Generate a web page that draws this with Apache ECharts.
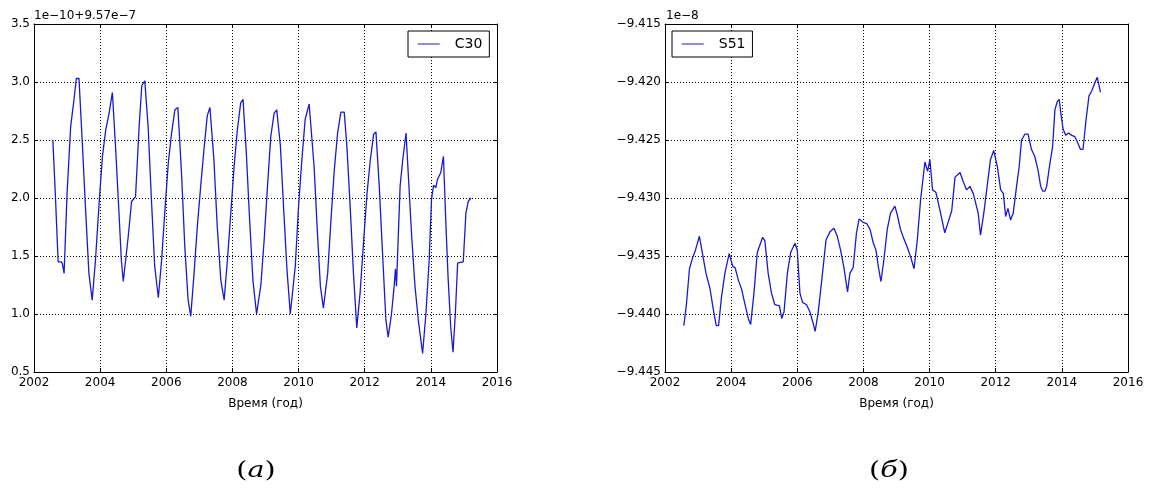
<!DOCTYPE html>
<html>
<head>
<meta charset="utf-8">
<script src="https://cdn.jsdelivr.net/npm/echarts@6/dist/echarts.min.js"></script>
<style>
html,body{margin:0;padding:0;background:#fff;}
#chart{width:1149px;height:490px;}
</style>
</head>
<body>
<div id="chart"></div>
<script>
// ---- data ----
// Left panel: C30 (offset 9.57e-7, units 1e-10)
var c30Years = [2002.57,2002.65,2002.73,2002.83,2002.86,2002.91,2003.00,2003.11,2003.21,2003.28,2003.36,2003.46,2003.56,2003.66,2003.76,2003.86,2003.97,2004.07,2004.17,2004.27,2004.37,2004.47,2004.57,2004.64,2004.70,2004.75,2004.85,2004.95,2005.07,2005.18,2005.26,2005.35,2005.45,2005.55,2005.65,2005.76,2005.86,2005.96,2006.06,2006.16,2006.26,2006.35,2006.46,2006.56,2006.66,2006.74,2006.84,2006.94,2007.04,2007.14,2007.24,2007.32,2007.44,2007.54,2007.65,2007.75,2007.85,2007.95,2008.05,2008.15,2008.25,2008.32,2008.42,2008.52,2008.62,2008.73,2008.86,2008.96,2009.06,2009.16,2009.26,2009.34,2009.45,2009.55,2009.65,2009.75,2009.80,2009.90,2010.00,2010.10,2010.20,2010.32,2010.37,2010.47,2010.57,2010.66,2010.75,2010.88,2010.98,2011.08,2011.18,2011.28,2011.38,2011.46,2011.56,2011.66,2011.76,2011.86,2011.97,2012.07,2012.17,2012.27,2012.34,2012.44,2012.54,2012.64,2012.71,2012.81,2012.89,2012.93,2012.96,2012.99,2013.07,2013.15,2013.25,2013.32,2013.42,2013.52,2013.62,2013.75,2013.85,2013.95,2014.02,2014.08,2014.15,2014.20,2014.30,2014.38,2014.45,2014.52,2014.60,2014.67,2014.74,2014.81,2014.98,2015.06,2015.13,2015.21];
var c30Values = [2.50,2.00,1.45,1.45,1.43,1.35,2.04,2.62,2.85,3.03,3.03,2.48,1.90,1.35,1.12,1.47,1.96,2.36,2.59,2.73,2.91,2.42,1.87,1.47,1.28,1.29,1.67,1.97,2.01,2.62,2.97,3.01,2.62,1.99,1.41,1.14,1.47,1.90,2.30,2.56,2.76,2.78,2.22,1.58,1.12,0.98,1.35,1.76,2.10,2.42,2.71,2.78,2.33,1.76,1.29,1.12,1.47,1.87,2.27,2.59,2.82,2.85,2.39,1.81,1.29,1.00,1.25,1.64,2.10,2.53,2.73,2.76,2.45,1.90,1.38,1.00,1.00,1.41,1.93,2.33,2.68,2.81,2.81,2.27,1.70,1.24,1.05,1.35,1.81,2.24,2.56,2.74,2.74,2.45,1.93,1.35,0.88,1.18,1.64,2.04,2.33,2.55,2.57,2.10,1.52,0.95,0.80,1.00,1.24,1.39,1.24,1.24,2.10,2.33,2.56,2.19,1.67,1.24,0.95,0.66,1.00,1.47,1.99,2.11,2.09,2.16,2.22,2.36,1.81,1.32,0.89,0.67,1.00,1.44,1.45,1.87,1.97,2.00];

// Right panel: S51 (units 1e-8)
var s51Years = [2002.57,2002.65,2002.74,2002.84,2002.91,2003.04,2003.14,2003.24,2003.36,2003.46,2003.55,2003.62,2003.71,2003.81,2003.94,2004.05,2004.12,2004.22,2004.32,2004.42,2004.52,2004.59,2004.69,2004.79,2004.95,2005.02,2005.12,2005.22,2005.32,2005.46,2005.53,2005.60,2005.70,2005.80,2005.93,2006.00,2006.08,2006.16,2006.28,2006.38,2006.48,2006.54,2006.63,2006.74,2006.87,2006.99,2007.11,2007.21,2007.31,2007.41,2007.52,2007.59,2007.69,2007.79,2007.87,2007.99,2008.10,2008.20,2008.30,2008.38,2008.45,2008.53,2008.62,2008.72,2008.82,2008.95,2009.02,2009.12,2009.22,2009.32,2009.43,2009.53,2009.63,2009.73,2009.86,2009.94,2010.01,2010.09,2010.19,2010.31,2010.46,2010.56,2010.67,2010.77,2010.92,2011.02,2011.12,2011.22,2011.32,2011.47,2011.54,2011.64,2011.74,2011.84,2011.94,2012.05,2012.15,2012.23,2012.30,2012.37,2012.45,2012.53,2012.63,2012.71,2012.78,2012.88,2012.98,2013.08,2013.18,2013.28,2013.36,2013.42,2013.49,2013.54,2013.64,2013.72,2013.79,2013.86,2013.92,2013.97,2014.04,2014.12,2014.20,2014.30,2014.39,2014.49,2014.56,2014.64,2014.73,2014.82,2014.90,2014.98,2015.07,2015.17];
var s51Values = [-9.4410,-9.4391,-9.4361,-9.4351,-9.4346,-9.4333,-9.4349,-9.4365,-9.4378,-9.4396,-9.4410,-9.4410,-9.4385,-9.4365,-9.4348,-9.4359,-9.4360,-9.4371,-9.4379,-9.4392,-9.4404,-9.4409,-9.4382,-9.4347,-9.4334,-9.4337,-9.4365,-9.4382,-9.4392,-9.4393,-9.4404,-9.4398,-9.4365,-9.4347,-9.4339,-9.4345,-9.4382,-9.4390,-9.4392,-9.4398,-9.4408,-9.4415,-9.4399,-9.4371,-9.4336,-9.4329,-9.4326,-9.4333,-9.4345,-9.4360,-9.4381,-9.4365,-9.4360,-9.4330,-9.4318,-9.4321,-9.4322,-9.4327,-9.4339,-9.4345,-9.4359,-9.4372,-9.4353,-9.4327,-9.4313,-9.4307,-9.4314,-9.4327,-9.4335,-9.4342,-9.4351,-9.4361,-9.4336,-9.4301,-9.4269,-9.4277,-9.4267,-9.4293,-9.4295,-9.4310,-9.4330,-9.4321,-9.4311,-9.4282,-9.4278,-9.4286,-9.4293,-9.4290,-9.4296,-9.4313,-9.4332,-9.4313,-9.4290,-9.4267,-9.4259,-9.4273,-9.4293,-9.4296,-9.4316,-9.4309,-9.4319,-9.4313,-9.4290,-9.4273,-9.4250,-9.4245,-9.4245,-9.4258,-9.4264,-9.4276,-9.4290,-9.4294,-9.4294,-9.4290,-9.4270,-9.4256,-9.4224,-9.4217,-9.4215,-9.4227,-9.4241,-9.4246,-9.4244,-9.4246,-9.4247,-9.4253,-9.4258,-9.4258,-9.4233,-9.4212,-9.4208,-9.4202,-9.4196,-9.4209];

var xAxisName = 'Время (год)';
var leftOffsetLabel = '1e\u221210+9.57e\u22127';
var rightOffsetLabel = '1e\u22128';
var captionLeft = 'a';
var captionRight = 'б';

// ---- chart ----
function pairs(xs, ys){ var out=[]; for(var i=0;i<xs.length;i++){ out.push([xs[i], ys[i]]); } return out; }

var FONT = 'DejaVu Sans';
var LINE = '#1a1ad0';
var gridLine = {show:true, lineStyle:{color:'#000', width:1, type:[1,2]}};

function xMain(gi){
  return {type:'value', gridIndex:gi, min:2002, max:2016, interval:2, position:'bottom',
    name:xAxisName, nameLocation:'middle', nameGap:26,
    nameTextStyle:{fontFamily:FONT, fontSize:12, color:'#000'},
    axisLine:{show:true, lineStyle:{color:'#000', width:1}},
    axisTick:{show:true, inside:true, length:4, lineStyle:{color:'#000'}},
    axisLabel:{fontFamily:FONT, fontSize:12, color:'#000', margin:5, formatter:function(v){return String(Math.round(v));}},
    splitLine:gridLine};
}
function xTop(gi){
  return {type:'value', gridIndex:gi, min:2002, max:2016, interval:2, position:'top',
    axisLine:{show:true, lineStyle:{color:'#000', width:1}},
    axisTick:{show:true, inside:true, length:4, lineStyle:{color:'#000'}},
    axisLabel:{show:false}, splitLine:{show:false}};
}
function yMain(gi, mn, mx, iv, fmt){
  return {type:'value', gridIndex:gi, min:mn, max:mx, interval:iv, position:'left',
    axisLine:{show:true, lineStyle:{color:'#000', width:1}},
    axisTick:{show:true, inside:true, length:4, lineStyle:{color:'#000'}},
    axisLabel:{fontFamily:FONT, fontSize:12, color:'#000', margin:4, formatter:fmt},
    splitLine:gridLine};
}
function yRight(gi, mn, mx, iv){
  return {type:'value', gridIndex:gi, min:mn, max:mx, interval:iv, position:'right',
    axisLine:{show:true, lineStyle:{color:'#000', width:1}},
    axisTick:{show:true, inside:true, length:4, lineStyle:{color:'#000'}},
    axisLabel:{show:false}, splitLine:{show:false}};
}

var fmtLeft = function(v){ return v.toFixed(1); };
var fmtRight = function(v){ return v.toFixed(3).replace('-', '\u2212'); };

function legendBox(left, name){
  return {show:true, left:left, top:31, orient:'horizontal', data:[name],
    padding:[6,7,6,9], borderColor:'#000', borderWidth:1, borderRadius:0,
    backgroundColor:'#fff', itemWidth:22, itemHeight:14, itemGap:0,
    selectedMode:false,
    itemStyle:{color:'rgba(0,0,0,0)', opacity:0, borderWidth:0},
    lineStyle:{color:'#6a6ad8', width:1.5},
    textStyle:{fontFamily:FONT, fontSize:14, color:'#000', padding:[0,0,0,10]}};
}

function caption(x, letter){
  return {type:'text', x:x, y:471, scaleX:1.3, z:10,
    style:{text:'{p|(}{i|' + letter + '}{p|)}', align:'center', verticalAlign:'middle',
      rich:{p:{fontFamily:'DejaVu Serif', fontSize:22, fill:'#000'},
            i:{fontFamily:'DejaVu Serif', fontStyle:'italic', fontSize:22, fill:'#000'}}}};
}

var chart = echarts.init(document.getElementById('chart'), null, {renderer:'canvas'});
chart.setOption({
  backgroundColor:'#fff',
  animation:false,
  title:[
    {text:leftOffsetLabel, left:34, top:10, padding:0, textStyle:{fontFamily:FONT, fontSize:12, fontWeight:'normal', color:'#000'}},
    {text:rightOffsetLabel, left:666, top:10, padding:0, textStyle:{fontFamily:FONT, fontSize:12, fontWeight:'normal', color:'#000'}}
  ],
  grid:[
    {left:34, top:24, width:463, height:348, show:false},
    {left:665, top:24, width:463, height:348, show:false}
  ],
  xAxis:[xMain(0), xTop(0), xMain(1), xTop(1)],
  yAxis:[yMain(0, 0.5, 3.5, 0.5, fmtLeft), yRight(0, 0.5, 3.5, 0.5),
         yMain(1, -9.445, -9.415, 0.005, fmtRight), yRight(1, -9.445, -9.415, 0.005)],
  legend:[legendBox(408, 'C30'), legendBox(672, 'S51')],
  series:[
    {name:'C30', type:'line', xAxisIndex:0, yAxisIndex:0, data:pairs(c30Years, c30Values),
     symbol:'none', lineStyle:{color:LINE, width:1.3}, itemStyle:{color:LINE}},
    {name:'S51', type:'line', xAxisIndex:2, yAxisIndex:2, data:pairs(s51Years, s51Values),
     symbol:'none', lineStyle:{color:LINE, width:1.3}, itemStyle:{color:LINE}}
  ],
  graphic:[caption(256, captionLeft), caption(889, captionRight)]
});
</script>
</body>
</html>
